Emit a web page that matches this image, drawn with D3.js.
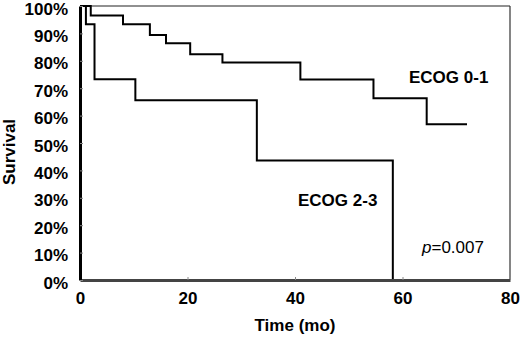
<!DOCTYPE html>
<html>
<head>
<meta charset="utf-8">
<script src="https://cdn.jsdelivr.net/npm/d3@7"></script>
<style>
  html, body { margin: 0; padding: 0; background: #fff; }
  svg { display: block; font-family: Arial, "Liberation Sans", sans-serif; }
</style>
</head>
<body>
<div id="chart"></div>
<script>
  // Kaplan-Meier style survival curves
  const ecog01Time = [0, 2, 8, 13, 16, 20.5, 26.5, 41, 54.6, 64.5, 72];
  const ecog01Surv = [100, 96.5, 93.3, 89.4, 86.4, 82.4, 79.4, 73.2, 66.3, 56.8, 56.8];
  const ecog23Time = [0, 1.1, 2.7, 10.3, 32.9, 58.2];
  const ecog23Surv = [100, 93.3, 73.3, 65.6, 43.6, 0];
  const xTicks = [0, 20, 40, 60, 80];
  const yTicks = [0, 10, 20, 30, 40, 50, 60, 70, 80, 90, 100];

  const width = 520;
  const height = 337;
  const margin = { top: 6, right: 10, bottom: 57, left: 80 };

  const svg = d3.select('#chart')
    .append('svg')
    .attr('width', width)
    .attr('height', height);

  const x = d3.scaleLinear().domain([0, 80]).range([margin.left, width - margin.right]);
  const y = d3.scaleLinear().domain([0, 100]).range([height - margin.bottom, margin.top]);

  // thin frame on top and right
  svg.append('line')
    .attr('x1', x(0)).attr('x2', x(80))
    .attr('y1', y(100)).attr('y2', y(100))
    .attr('stroke', '#222').attr('stroke-width', 1.2);
  svg.append('line')
    .attr('x1', x(80)).attr('x2', x(80))
    .attr('y1', y(100)).attr('y2', y(0))
    .attr('stroke', '#333').attr('stroke-width', 1.2);

  const line = d3.line()
    .x((d) => x(d[0]))
    .y((d) => y(d[1]))
    .curve(d3.curveStepAfter);

  [[ecog01Time, ecog01Surv], [ecog23Time, ecog23Surv]].forEach(([t, s]) => {
    svg.append('path')
      .datum(t.map((v, i) => [v, s[i]]))
      .attr('fill', 'none')
      .attr('stroke', '#000')
      .attr('stroke-width', 2)
      .attr('d', line);
  });

  const xAxis = svg.append('g')
    .attr('transform', `translate(0,${y(0)})`)
    .call(d3.axisBottom(x).tickValues(xTicks).tickSizeInner(-3).tickSizeOuter(0).tickPadding(12));
  xAxis.select('.domain').attr('stroke', '#444').attr('stroke-width', 3);
  xAxis.selectAll('.tick line').attr('stroke', '#888');
  xAxis.selectAll('text')
    .attr('fill', '#000')
    .style('font-size', '17px')
    .style('font-weight', 'bold');

  const yAxis = svg.append('g')
    .attr('transform', `translate(${x(0)},0)`)
    .call(d3.axisLeft(y).tickValues(yTicks).tickSizeInner(-3).tickSizeOuter(0).tickPadding(12)
      .tickFormat((d) => `${d}%`));
  yAxis.select('.domain').attr('stroke', '#000').attr('stroke-width', 3);
  yAxis.selectAll('.tick line').attr('stroke', '#888');
  yAxis.selectAll('text')
    .attr('fill', '#000')
    .attr('dy', '0.48em')
    .style('font-size', '17px')
    .style('font-weight', 'bold');

  svg.append('text')
    .attr('transform', `translate(15,${152}) rotate(-90)`)
    .attr('text-anchor', 'middle')
    .style('font-size', '17px')
    .style('font-weight', 'bold')
    .text('Survival');

  svg.append('text')
    .attr('x', 295)
    .attr('y', 331)
    .attr('text-anchor', 'middle')
    .style('font-size', '17px')
    .style('font-weight', 'bold')
    .text('Time (mo)');

  svg.append('text')
    .attr('x', 409).attr('y', 83)
    .style('font-size', '17px').style('font-weight', 'bold')
    .text('ECOG 0-1');

  svg.append('text')
    .attr('x', 298).attr('y', 206)
    .style('font-size', '17px').style('font-weight', 'bold')
    .text('ECOG 2-3');

  const pText = svg.append('text')
    .attr('x', 422).attr('y', 253)
    .style('font-size', '17px');
  pText.append('tspan').style('font-style', 'italic').text('p');
  pText.append('tspan').text('=0.007');
</script>
</body>
</html>
